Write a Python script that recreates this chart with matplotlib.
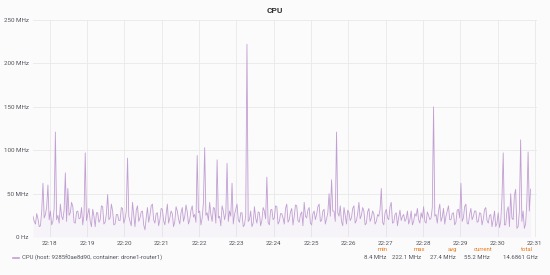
import matplotlib.pyplot as plt
import pandas as pd

# CPU usage in MHz, one sample every 2 s starting 22:17:33
cpu_mhz = [
    24, 18, 15, 27, 21, 12, 13, 30, 62, 22, 26, 35, 60, 20, 30, 14, 18, 33, 121, 20,
    25, 16, 38, 24, 20, 31, 74, 18, 56, 25, 28, 40, 35, 17, 16, 29, 30, 21, 22, 34,
    14, 26, 97, 19, 26, 33, 18, 12, 32, 24, 12, 28, 28, 17, 20, 36, 35, 15, 17, 27,
    49, 20, 22, 38, 30, 14, 15, 26, 26, 19, 19, 34, 33, 16, 21, 30, 91, 24, 18, 13,
    40, 25, 12, 31, 36, 18, 22, 29, 30, 14, 8.4, 22, 34, 17, 25, 36, 38, 20, 16, 27,
    28, 13, 20, 33, 32, 19, 14, 26, 38, 16, 22, 30, 27, 12, 18, 35, 30, 21, 15, 28,
    34, 18, 24, 37, 29, 15, 20, 31, 36, 23, 26, 17, 94, 28, 30, 14, 22, 40, 103, 25,
    28, 19, 40, 26, 18, 34, 33, 16, 89, 22, 24, 13, 36, 30, 20, 27, 85, 18, 30, 24,
    62, 15, 26, 32, 38, 20, 17, 28, 28, 12, 14, 25, 222.1, 18, 20, 30, 12, 16, 35, 22,
    16, 29, 28, 13, 19, 34, 30, 21, 69, 17, 14, 31, 32, 20, 22, 36, 35, 15, 18, 27,
    27, 22, 15, 33, 38, 17, 20, 29, 33, 14, 24, 37, 36, 19, 17, 26, 29, 13, 40, 24,
    22, 31, 34, 16, 14, 27, 30, 20, 26, 35, 38, 18, 19, 30, 32, 15, 21, 28, 50, 24,
    66, 30, 30, 18, 121, 28, 24, 36, 18, 13, 34, 25, 15, 31, 28, 19, 22, 33, 36, 16,
    19, 27, 40, 21, 25, 34, 30, 14, 16, 29, 33, 18, 22, 30, 27, 15, 18, 26, 24, 32,
    56, 17, 14, 28, 32, 22, 20, 35, 40, 16, 17, 26, 28, 13, 23, 31, 19, 24, 26, 18,
    21, 30, 15, 20, 30, 14, 18, 27, 24, 33, 20, 16, 28, 22, 35, 18, 16, 29, 25, 20,
    22, 34, 150, 24, 26, 16, 30, 38, 18, 23, 33, 15, 24, 30, 36, 20, 20, 27, 28, 14,
    17, 31, 32, 22, 62, 18, 22, 35, 38, 16, 15, 26, 33, 20, 24, 30, 30, 17, 18, 28,
    27, 14, 21, 32, 34, 19, 16, 25, 26, 12, 20, 30, 12, 16, 28, 11, 18, 45, 97, 14,
    14, 30, 35, 12, 50, 22, 20, 48, 55, 10, 12, 30, 112, 18, 30, 10, 15, 40, 98, 30,
    55.2,
]
times = pd.date_range("2020-01-01 22:17:33", periods=len(cpu_mhz), freq="2s")

y_ticks = [0, 50, 100, 150, 200, 250]
y_labels = ["0 Hz", "50 MHz", "100 MHz", "150 MHz", "200 MHz", "250 MHz"]
x_ticks = pd.date_range("2020-01-01 22:18", "2020-01-01 22:31", freq="1min")
x_labels = [t.strftime("%H:%M") for t in x_ticks]

legend_label = "CPU (host: 9285f0ae8d90, container: drone1-router1)"
stat_names = ["min", "max", "avg", "current", "total"]
stat_values = ["8.4 MHz", "222.1 MHz", "27.4 MHz", "55.2 MHz", "14.6861 GHz"]

line_col = "#c29fd3"
text_col = "#52545c"

plt.rcParams['font.family'] = ['Roboto', 'DejaVu Sans']

fig = plt.figure(figsize=(5.5, 2.75), dpi=100)
fig.patch.set_facecolor("#fbfbfb")
ax = fig.add_axes([0.06, 0.138, 0.916, 0.789])
ax.set_facecolor("#fbfbfb")

ax.plot(times, cpu_mhz, color=line_col, linewidth=0.6)
ax.fill_between(times, cpu_mhz, 0, color=line_col, alpha=0.07, linewidth=0)

ax.set_ylim(0, 250)
ax.set_xlim(times[0], pd.Timestamp("2020-01-01 22:31:03"))
ax.set_yticks(y_ticks)
ax.set_yticklabels(y_labels)
ax.set_xticks(x_ticks)
ax.set_xticklabels(x_labels)
ax.tick_params(length=0, labelsize=4.5, colors=text_col, pad=3)
ax.grid(True, color="#e8e8ea", linewidth=0.6)
ax.set_axisbelow(True)
for s in ax.spines.values():
    s.set_visible(False)

fig.text(0.5, 0.962, "CPU", ha="center", va="center", fontsize=6,
         fontweight="bold", color="#333333")

# legend row
fig.lines.append(plt.Line2D([0.024, 0.034], [0.062, 0.062], color=line_col,
                            linewidth=1.2, transform=fig.transFigure))
fig.text(0.040, 0.062, legend_label, ha="left", va="center", fontsize=4.3,
         color=text_col)

head_x = [0.695, 0.762, 0.822, 0.878, 0.958]
val_x = [0.682, 0.740, 0.806, 0.867, 0.946]
for name, hx in zip(stat_names, head_x):
    fig.text(hx, 0.094, name, ha="center", va="center", fontsize=4.3,
             color="#eb7b18")
for val, vx in zip(stat_values, val_x):
    fig.text(vx, 0.062, val, ha="center", va="center", fontsize=4.3,
             color=text_col)

fig.savefig("out.png", dpi=100, facecolor=fig.get_facecolor())
